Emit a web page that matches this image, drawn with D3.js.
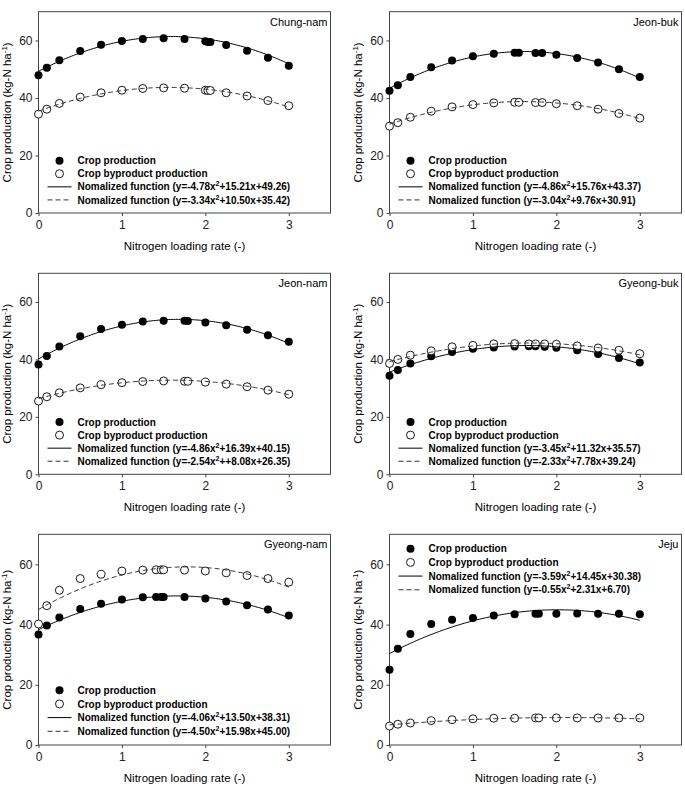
<!DOCTYPE html>
<html>
<head>
<meta charset="utf-8">
<script src="https://cdn.jsdelivr.net/npm/d3@7"></script>
<style>
    body { margin: 0; background: #fff; }
    svg { display: block; font-family: Arial, 'Liberation Sans', sans-serif; }
</style>
</head>
<body>
<div id="chart"></div>
<script>
'use strict';

// Region names, one panel each (left to right, top to bottom)
const regions = ['Chung-nam', 'Jeon-buk', 'Jeon-nam', 'Gyeong-buk', 'Gyeong-nam', 'Jeju'];

// Nitrogen loading rate of each point, per region
const rates = [
    [0, 0.1, 0.25, 0.5, 0.75, 1, 1.25, 1.5, 1.75, 2, 2.03, 2.06, 2.25, 2.5, 2.75, 3],
    [0, 0.1, 0.25, 0.5, 0.75, 1, 1.25, 1.5, 1.55, 1.75, 1.83, 2, 2.25, 2.5, 2.75, 3],
    [0, 0.1, 0.25, 0.5, 0.75, 1, 1.25, 1.5, 1.75, 1.79, 2, 2.25, 2.5, 2.75, 3],
    [0, 0.1, 0.25, 0.5, 0.75, 1, 1.25, 1.5, 1.67, 1.75, 1.86, 2, 2.25, 2.5, 2.75, 3],
    [0, 0.1, 0.25, 0.5, 0.75, 1, 1.25, 1.41, 1.47, 1.5, 1.75, 2, 2.25, 2.5, 2.75, 3],
    [0, 0.1, 0.25, 0.5, 0.75, 1, 1.25, 1.5, 1.75, 1.79, 2, 2.25, 2.5, 2.75, 3]
];

// Crop production (kg-N/ha)
const cropValues = [
    [47.9, 50.5, 53.1, 56.3, 58.5, 59.8, 60.5, 60.8, 60.5, 59.7, 59.5, 59.5, 58.4, 56.4, 54.0, 51.2],
    [42.5, 44.4, 47.3, 50.7, 53.0, 54.5, 55.4, 55.7, 55.7, 55.6, 55.6, 55.0, 53.9, 52.3, 50.0, 47.3],
    [38.2, 41.2, 44.5, 48.1, 50.6, 52.1, 53.2, 53.5, 53.5, 53.4, 52.9, 51.9, 50.3, 48.4, 46.2],
    [34.3, 36.3, 38.6, 41.1, 42.6, 43.7, 44.2, 44.5, 44.6, 44.6, 44.4, 44.1, 43.2, 41.9, 40.5, 38.9],
    [36.7, 39.7, 42.4, 45.2, 46.9, 48.3, 49.1, 49.2, 49.2, 49.2, 49.2, 48.7, 47.7, 46.4, 45.0, 43.0],
    [25.0, 32.0, 36.9, 40.2, 41.6, 42.2, 43.0, 43.4, 43.6, 43.6, 43.6, 43.7, 43.6, 43.6, 43.4]
];

// Crop byproduct production (kg-N/ha)
const byproductValues = [
    [34.4, 36.1, 38.1, 40.3, 41.8, 42.7, 43.3, 43.5, 43.4, 42.7, 42.6, 42.6, 41.8, 40.7, 39.1, 37.3],
    [30.2, 31.4, 33.3, 35.4, 36.9, 37.7, 38.3, 38.5, 38.5, 38.4, 38.4, 38.0, 37.3, 36.1, 34.6, 33.0],
    [25.5, 27.0, 28.4, 30.1, 31.2, 31.9, 32.3, 32.5, 32.4, 32.4, 32.1, 31.4, 30.5, 29.3, 27.9],
    [38.6, 40.0, 41.5, 43.0, 44.4, 44.9, 45.4, 45.5, 45.4, 45.4, 45.4, 45.3, 44.7, 44.0, 43.2, 42.0],
    [40.2, 46.3, 51.4, 55.3, 56.7, 57.8, 58.1, 58.2, 58.2, 58.2, 58.1, 57.8, 57.2, 56.3, 55.3, 54.1],
    [6.3, 6.9, 7.3, 8.1, 8.4, 8.7, 8.9, 8.9, 9.0, 9.0, 9.0, 9.0, 9.0, 9.0, 9.0]
];

// Quadratic fit coefficients [a, b, c] for y = a x^2 + b x + c
const cropFit = [
    [-4.78, 15.21, 49.26], [-4.86, 15.76, 43.37], [-4.86, 16.39, 40.15],
    [-3.45, 11.32, 35.57], [-4.06, 13.50, 38.31], [-3.59, 14.45, 30.38]
];
const byproductFit = [
    [-3.34, 10.50, 35.42], [-3.04, 9.76, 30.91], [-2.54, 8.08, 26.35],
    [-2.33, 7.78, 39.24], [-4.50, 15.98, 45.00], [-0.55, 2.31, 6.70]
];

// Equation text as printed in each legend
const cropFitText = [
    '-4.78x^2+15.21x+49.26', '-4.86x^2+15.76x+43.37', '-4.86x^2+16.39x+40.15',
    '-3.45x^2+11.32x+35.57', '-4.06x^2+13.50x+38.31', '-3.59x^2+14.45x+30.38'
];
const byproductFitText = [
    '-3.34x^2+10.50x+35.42', '-3.04x^2+9.76x+30.91', '-2.54x^2++8.08x+26.35',
    '-2.33x^2+7.78x+39.24', '-4.50x^2+15.98x+45.00', '-0.55x^2+2.31x+6.70'
];

const xTicks = [0, 1, 2, 3];
const yTicks = [0, 20, 40, 60];

// Layout
const width = 685, height = 791;
const plotW = 292;
const colLeft = [38.5, 389.5];
const rowBox = [[11.7, 213], [273.3, 474.3], [534.3, 745]];

const svg = d3.select('#chart').append('svg')
    .attr('width', width)
    .attr('height', height);

const poly = (c, v) => c[0] * v * v + c[1] * v + c[2];

// Adds "Nomalized function (y=...)" with a superscript 2
function fitLabel(sel, text) {
    const [head, tail] = text.split('^2');
    sel.append('tspan').text(`Nomalized function (y=${head}`);
    sel.append('tspan').attr('dy', -4).attr('font-size', 7).text('2');
    sel.append('tspan').attr('dy', 4).text(`${tail})`);
}

regions.forEach((name, i) => {
    const col = i % 2, row = Math.floor(i / 2);
    const left = colLeft[col], top = rowBox[row][0], bottom = rowBox[row][1];
    const h = bottom - top;

    const x = d3.scaleLinear().domain([0, 3.5]).range([0, plotW]);
    const y = d3.scaleLinear().domain([0, 70]).range([h, 0]);

    const g = svg.append('g').attr('transform', `translate(${left}, ${top})`);

    // Axes
    const axX = g.append('g')
        .attr('transform', `translate(0, ${h})`)
        .call(d3.axisBottom(x).tickValues(xTicks).tickSize(3).tickPadding(4).tickFormat(d3.format('d')));
    const axY = g.append('g')
        .call(d3.axisLeft(y).tickValues(yTicks).tickSize(3).tickPadding(3).tickFormat(d3.format('d')));
    [axX, axY].forEach(a => {
        a.select('.domain').remove();
        a.selectAll('text').attr('font-size', 12).attr('fill', '#222').attr('font-family', null);
        a.selectAll('line').attr('stroke', '#444');
    });

    // Frame
    g.append('rect')
        .attr('width', plotW).attr('height', h)
        .attr('fill', 'none').attr('stroke', '#444').attr('stroke-width', 1);

    const pts = rates[i].map((r, k) => ({ r, crop: cropValues[i][k], by: byproductValues[i][k] }));

    // Scatter points
    g.selectAll('circle.crop')
        .data(pts)
        .join('circle')
        .classed('crop', true)
        .attr('cx', d => x(d.r)).attr('cy', d => y(d.crop)).attr('r', 4)
        .attr('fill', '#000');

    g.selectAll('circle.by')
        .data(pts)
        .join('circle')
        .classed('by', true)
        .attr('cx', d => x(d.r)).attr('cy', d => y(d.by)).attr('r', 4)
        .attr('fill', '#fff').attr('stroke', '#000').attr('stroke-width', 0.9);

    // Fitted curves from the legend functions
    const grid = d3.range(0, 3.0001, 0.02);
    const line = c => d3.line().x(v => x(v)).y(v => y(poly(c, v)))(grid);

    g.append('path').attr('d', line(cropFit[i]))
        .attr('fill', 'none').attr('stroke', '#000').attr('stroke-width', 1);
    g.append('path').attr('d', line(byproductFit[i]))
        .attr('fill', 'none').attr('stroke', '#333').attr('stroke-width', 1)
        .attr('stroke-dasharray', '5,3');

    // Region name
    g.append('text')
        .attr('x', plotW - 3).attr('y', 14)
        .attr('text-anchor', 'end').attr('font-size', 11)
        .text(name);

    // Legend
    const sp = h * 0.065;
    const y0 = name === 'Jeju' ? sp * 1.05 : h - 4 * sp;
    const leg = g.append('g').attr('font-size', 10).attr('font-weight', 'bold');

    leg.append('circle').attr('cx', 21).attr('cy', y0).attr('r', 4).attr('fill', '#000');
    leg.append('circle').attr('cx', 21).attr('cy', y0 + sp).attr('r', 4)
        .attr('fill', '#fff').attr('stroke', '#000').attr('stroke-width', 0.9);
    leg.append('line').attr('x1', 9).attr('x2', 33).attr('y1', y0 + 2 * sp).attr('y2', y0 + 2 * sp)
        .attr('stroke', '#000').attr('stroke-width', 1);
    leg.append('line').attr('x1', 9).attr('x2', 33).attr('y1', y0 + 3 * sp).attr('y2', y0 + 3 * sp)
        .attr('stroke', '#333').attr('stroke-width', 1).attr('stroke-dasharray', '5,3');

    leg.append('text').attr('x', 39).attr('y', y0).attr('dy', '0.36em').text('Crop production');
    leg.append('text').attr('x', 39).attr('y', y0 + sp).attr('dy', '0.36em').text('Crop byproduct production');
    leg.append('text').attr('x', 39).attr('y', y0 + 2 * sp).attr('dy', '0.36em').call(fitLabel, cropFitText[i]);
    leg.append('text').attr('x', 39).attr('y', y0 + 3 * sp).attr('dy', '0.36em').call(fitLabel, byproductFitText[i]);

    // Axis titles
    g.append('text')
        .attr('x', plotW / 2).attr('y', h + 37)
        .attr('text-anchor', 'middle').attr('font-size', 11.5)
        .text('Nitrogen loading rate (-)');

    const yl = g.append('text')
        .attr('transform', `translate(-27.5, ${h / 2}) rotate(-90)`)
        .attr('text-anchor', 'middle').attr('font-size', 11.5);
    yl.append('tspan').text('Crop production (kg-N ha');
    yl.append('tspan').attr('dy', -4).attr('font-size', 8).text('-1');
    yl.append('tspan').attr('dy', 4).text(')');
});
</script>
</body>
</html>
